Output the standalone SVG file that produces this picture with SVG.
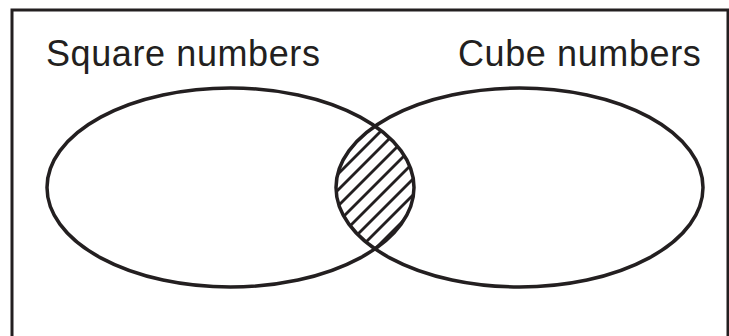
<svg xmlns="http://www.w3.org/2000/svg" width="729" height="336" viewBox="0 0 729 336">
  <style>
    .outline { fill: none; stroke: #231f20; stroke-width: 3.5; }
    .frame { fill: none; stroke: #231f20; stroke-width: 3; }
    .hatch line { stroke: #231f20; stroke-width: 2.8; }
    .label { font-family: "Liberation Sans", Arial, Helvetica, sans-serif; font-size: 36px; fill: #231f20; letter-spacing: 0.6px; }
  </style>
  <defs>
    <clipPath id="lens">
      <path d="M375,126.2 A183.5,99.5 0 0 1 375,248.8 A183.5,99.5 0 0 1 375,126.2 Z"/>
    </clipPath>
  </defs>
  <rect class="frame" x="12" y="10" width="716" height="340"/>
  <g id="intersection" class="hatch" clip-path="url(#lens)">
    <line x1="320" y1="176" x2="430" y2="66"/>
    <line x1="320" y1="192" x2="430" y2="82"/>
    <line x1="320" y1="208" x2="430" y2="98"/>
    <line x1="320" y1="224" x2="430" y2="114"/>
    <line x1="320" y1="240" x2="430" y2="130"/>
    <line x1="320" y1="256" x2="430" y2="146"/>
    <line x1="320" y1="272" x2="430" y2="162"/>
    <line x1="320" y1="288" x2="430" y2="178"/>
    <line x1="320" y1="304" x2="430" y2="194"/>
  </g>
  <g id="square-numbers">
    <ellipse class="outline" cx="230.5" cy="187.5" rx="183.5" ry="99.5"/>
    <text class="label" x="46" y="66">Square numbers</text>
  </g>
  <g id="cube-numbers">
    <ellipse class="outline" cx="519.5" cy="187.5" rx="183.5" ry="99.5"/>
    <text class="label" x="458" y="66">Cube numbers</text>
  </g>
</svg>
